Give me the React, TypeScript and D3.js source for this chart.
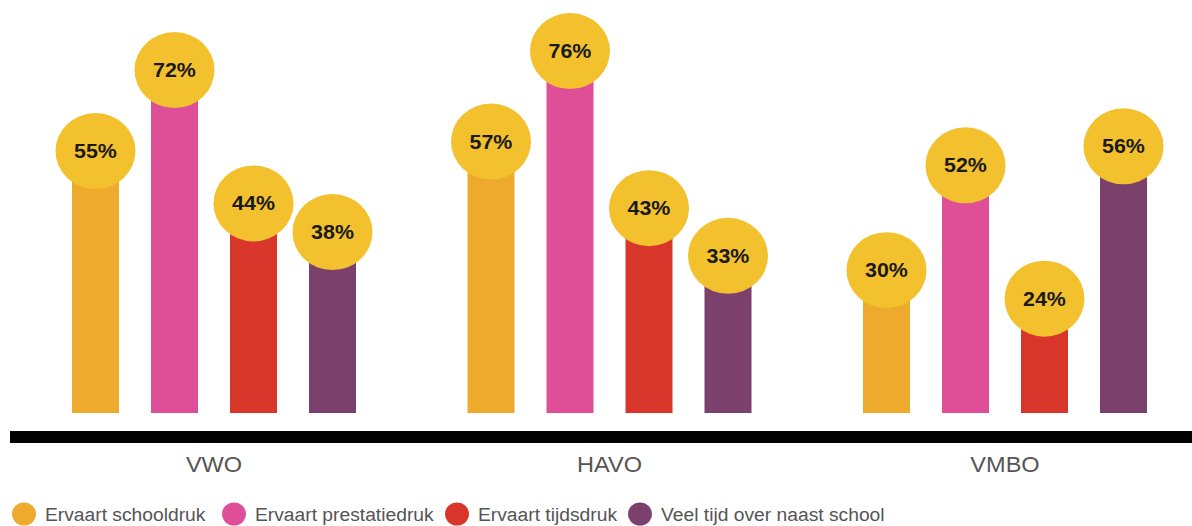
import React from "react";
import * as d3 from "d3";

const groups = ["VWO", "HAVO", "VMBO"];
const seriesNames = [
  "Ervaart schooldruk",
  "Ervaart prestatiedruk",
  "Ervaart tijdsdruk",
  "Veel tijd over naast school",
];
const schooldruk = [55, 57, 30];
const prestatiedruk = [72, 76, 52];
const tijdsdruk = [44, 43, 24];
const veelTijd = [38, 33, 56];
const seriesValues = [schooldruk, prestatiedruk, tijdsdruk, veelTijd];
const colors = ["#EEAA2C", "#DE4F98", "#D9362B", "#7C406D"];
const bubbleColor = "#F3C02E";

const W = 1192;
const H = 526;
const legendX = [24, 234, 457, 640];
const SX = 1.07;

export default function App() {
  const x0 = d3
    .scaleBand<string>()
    .domain(groups)
    .range([56, 1163])
    .paddingInner(0.201)
    .paddingOuter(0);
  const x1 = d3
    .scaleBand<string>()
    .domain(seriesNames)
    .range([0, x0.bandwidth()])
    .paddingInner(0.405)
    .paddingOuter(0.2025);
  const y = d3.scaleLinear().domain([0, 80]).range([413, 32]);

  const marks: { g: string; s: string; v: number; i: number }[] = [];
  groups.forEach((g, gi) => {
    seriesNames.forEach((s, si) => {
      marks.push({ g, s, v: seriesValues[si][gi], i: si });
    });
  });

  const font = "'Liberation Sans', Arial, Helvetica, sans-serif";

  return (
    <svg
      width={W}
      height={H}
      style={{ position: "absolute", left: 0, top: 0, background: "#fff" }}
      fontFamily={font}
    >
      {marks.map((m, k) => (
        <rect
          key={"b" + k}
          x={(x0(m.g) ?? 0) + (x1(m.s) ?? 0)}
          y={y(m.v)}
          width={x1.bandwidth()}
          height={y(0) - y(m.v)}
          fill={colors[m.i]}
        />
      ))}
      {marks.map((m, k) => {
        const cx = (x0(m.g) ?? 0) + (x1(m.s) ?? 0) + x1.bandwidth() / 2;
        const cy = y(m.v);
        return (
          <g key={"c" + k}>
            <ellipse cx={cx} cy={cy} rx={40} ry={38} fill={bubbleColor} />
            <text
              transform={`translate(${cx},${cy}) scale(${SX},1)`}
              dy="0.35em"
              textAnchor="middle"
              fontSize={20}
              fontWeight="bold"
              fill="#1a1a1a"
            >
              {m.v}%
            </text>
          </g>
        );
      })}
      <rect x={10} y={431} width={W - 10} height={12} fill="#000" />
      {groups.map((g) => (
        <text
          key={"l" + g}
          transform={`translate(${(x0(g) ?? 0) + x0.bandwidth() / 2},472) scale(${SX},1)`}
          textAnchor="middle"
          fontSize={22}
          fill="#555"
        >
          {g}
        </text>
      ))}
      {seriesNames.map((s, i) => (
        <g key={"lg" + i}>
          <ellipse cx={legendX[i]} cy={514} rx={12} ry={11.5} fill={colors[i]} />
          <text
            transform={`translate(${legendX[i] + 21},520.5) scale(${SX},1)`}
            fontSize={18}
            fill="#555"
          >
            {s}
          </text>
        </g>
      ))}
    </svg>
  );
}
